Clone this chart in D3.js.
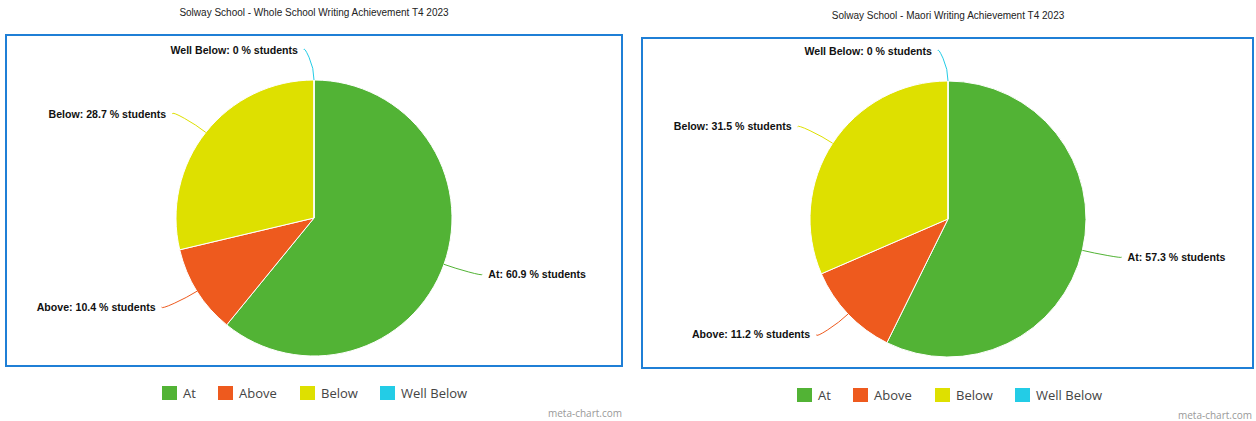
<!DOCTYPE html>
<html>
<head>
<meta charset="utf-8">
<style>
  body { margin: 0; background: #fff; }
  svg { display: block; }
</style>
</head>
<body>
<svg width="1256" height="421"></svg>
<script src="https://d3js.org/d3.v7.min.js"></script>
<script>
  var categories = ["At", "Above", "Below", "Well Below"];
  var colors = ["#52b335", "#ee5a1e", "#dee000", "#23cce6"];
  var wholeValues = [60.9, 10.4, 28.7, 0];
  var maoriValues = [57.3, 11.2, 31.5, 0];
  var titles = [
    "Solway School - Whole School Writing Achievement T4 2023",
    "Solway School - Maori Writing Achievement T4 2023"
  ];

  var svg = d3.select("svg");

  var panels = [
    {title: titles[0], values: wholeValues, box: [6, 35, 616, 331], cx: 314, cy: 218, titleY: 12, legendY: 393, legendX: 162, creditX: 622, creditY: 413},
    {title: titles[1], values: maoriValues, box: [642, 38, 611, 330], cx: 948, cy: 219, titleY: 15, legendY: 395, legendX: 797, creditX: 1252, creditY: 415}
  ];

  var r = 138, dist = 30;
  var pie = d3.pie().sort(null).value(function(d) { return d.value; });
  var arc = d3.arc().innerRadius(0).outerRadius(r);
  var legendOffsets = [0, 56, 138, 218];

  panels.forEach(function(p) {
    var data = categories.map(function(c, i) { return {name: c, value: p.values[i], color: colors[i]}; });

    svg.append("text")
        .attr("x", p.cx).attr("y", p.titleY)
        .attr("text-anchor", "middle")
        .attr("dy", "0.35em")
        .style("font-family", "Liberation Sans, Arial, sans-serif")
        .style("font-size", "10px")
        .attr("fill", "#222")
        .text(p.title);

    svg.append("rect")
        .attr("x", p.box[0]).attr("y", p.box[1])
        .attr("width", p.box[2]).attr("height", p.box[3])
        .attr("fill", "#fff")
        .attr("stroke", "#1f7fd6")
        .attr("stroke-width", 2);

    var g = svg.append("g").attr("transform", "translate(" + p.cx + "," + p.cy + ")");
    var arcs = pie(data);

    g.selectAll("path.slice")
      .data(arcs)
      .enter().append("path")
        .attr("class", "slice")
        .attr("d", arc)
        .attr("fill", function(d) { return d.data.color; })
        .attr("stroke", "#fff")
        .attr("stroke-width", 1);

    arcs.forEach(function(d) {
      var a = (d.startAngle + d.endAngle) / 2;
      var sx = r * Math.sin(a), sy = -r * Math.cos(a);
      var ly = -(r + dist) * Math.cos(a);
      var right = Math.sin(a) > 0.001;
      var side = right ? 1 : -1;
      var lx = side * Math.sqrt(Math.max(0, (r + dist) * (r + dist) - ly * ly));
      var mx = (r + 12) * Math.sin(a), my = -(r + 12) * Math.cos(a);
      var ex = lx + side * 10;
      var tx = lx + side * 16;
      g.append("path")
          .attr("d", "M" + sx + "," + sy + "Q" + mx + "," + my + " " + (mx + (ex - mx) * 0.5) + "," + (my + (ly - my) * 0.6) + "T" + ex + "," + ly)
          .attr("fill", "none")
          .attr("stroke", d.data.color)
          .attr("stroke-width", 1);
      g.append("text")
          .attr("x", tx).attr("y", ly)
          .attr("dy", "0.35em")
          .attr("text-anchor", right ? "start" : "end")
          .style("font-family", "Liberation Sans, Arial, sans-serif")
          .style("font-size", "10.6px")
          .style("font-weight", "bold")
          .attr("fill", "#111")
          .text(d.data.name + ": " + d.data.value + " % students");
    });

    var lg = svg.append("g").attr("transform", "translate(" + p.legendX + "," + p.legendY + ")");
    data.forEach(function(d, i) {
      lg.append("rect")
          .attr("x", legendOffsets[i]).attr("y", -7)
          .attr("width", 15).attr("height", 14)
          .attr("fill", d.color);
      lg.append("text")
          .attr("x", legendOffsets[i] + 21).attr("y", 0)
          .attr("dy", "0.35em")
          .style("font-family", "Open Sans, sans-serif")
          .style("font-size", "13px")
          .attr("fill", "#444")
          .text(d.name);
    });

    svg.append("text")
        .attr("x", p.creditX).attr("y", p.creditY)
        .attr("text-anchor", "end")
        .attr("dy", "0.35em")
        .style("font-family", "Open Sans, sans-serif")
        .style("font-size", "10px")
        .attr("fill", "#999")
        .text("meta-chart.com");
  });
</script>
</body>
</html>
